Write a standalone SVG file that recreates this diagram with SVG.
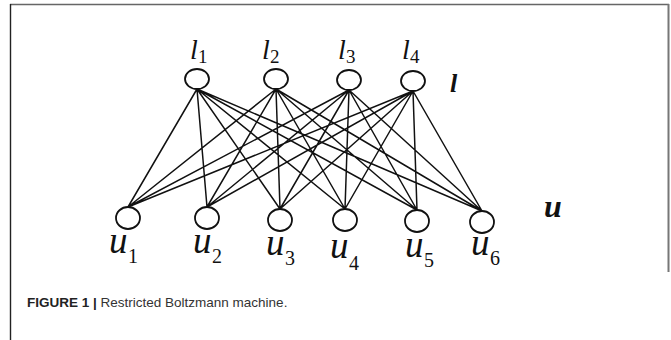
<svg xmlns="http://www.w3.org/2000/svg" width="671" height="340" viewBox="0 0 671 340">
<style>
.node{fill:#fff;stroke:#111;stroke-width:1.8}
.edge{stroke:#111;stroke-width:1.5;fill:none}
.var{font-family:"Liberation Serif",serif;font-style:italic;fill:#111}
.sub{font-family:"Liberation Serif",serif;fill:#111}
.bold{font-family:"Liberation Serif",serif;font-style:italic;font-weight:bold;fill:#111}
.cap{font-family:"Liberation Sans",Arial,sans-serif;font-size:13.5px;fill:#333}
</style>
<rect width="671" height="340" fill="#fff"/>
<g id="frame">
<line x1="10" y1="4.5" x2="669" y2="4.5" stroke="#666" stroke-width="1.6"/>
<line x1="668.5" y1="4" x2="668.5" y2="272" stroke="#777" stroke-width="2"/>
<line x1="10.5" y1="4" x2="10.5" y2="340" stroke="#222" stroke-width="1.4"/>
</g>
<g id="connectors">
<path class="edge" d="M197 89L128 207M197 89L207 207M197 89L280 209M197 89L345 209M197 89L417 210M197 89L482 211
M276 89L128 207M276 89L207 207M276 89L280 209M276 89L345 209M276 89L417 210M276 89L482 211
M349 90L128 207M349 90L207 207M349 90L280 209M349 90L345 209M349 90L417 210M349 90L482 211
M413 91L128 207M413 91L207 207M413 91L280 209M413 91L345 209M413 91L417 210M413 91L482 211"/>
</g>
<g id="l1"><ellipse class="node" cx="197" cy="79" rx="12" ry="10"/><text class="var" x="190" y="59" font-size="28">l</text><text class="sub" x="198" y="63" font-size="19">1</text></g>
<g id="l2"><ellipse class="node" cx="276" cy="79" rx="12" ry="10"/><text class="var" x="262" y="59" font-size="28">l</text><text class="sub" x="270" y="63" font-size="19">2</text></g>
<g id="l3"><ellipse class="node" cx="349" cy="80" rx="12" ry="10"/><text class="var" x="338" y="59" font-size="28">l</text><text class="sub" x="346" y="63" font-size="19">3</text></g>
<g id="l4"><ellipse class="node" cx="413" cy="81" rx="12" ry="10"/><text class="var" x="402" y="59" font-size="28">l</text><text class="sub" x="410" y="63" font-size="19">4</text></g>
<g id="lvec"><text class="bold" x="450" y="92" font-size="26">l</text></g>
<g id="u1"><ellipse class="node" cx="128" cy="218" rx="12" ry="11"/><text class="var" x="109" y="253" font-size="37">u</text><text class="sub" x="128" y="263" font-size="20">1</text></g>
<g id="u2"><ellipse class="node" cx="207" cy="218" rx="12" ry="11"/><text class="var" x="193" y="253" font-size="37">u</text><text class="sub" x="212" y="263" font-size="20">2</text></g>
<g id="u3"><ellipse class="node" cx="280" cy="220" rx="12" ry="11"/><text class="var" x="266" y="255" font-size="37">u</text><text class="sub" x="285" y="265" font-size="20">3</text></g>
<g id="u4"><ellipse class="node" cx="345" cy="220" rx="12" ry="11"/><text class="var" x="330" y="258" font-size="37">u</text><text class="sub" x="349" y="270" font-size="20">4</text></g>
<g id="u5"><ellipse class="node" cx="417" cy="221" rx="12" ry="11"/><text class="var" x="405" y="257" font-size="37">u</text><text class="sub" x="424" y="267" font-size="20">5</text></g>
<g id="u6"><ellipse class="node" cx="482" cy="222" rx="12" ry="11"/><text class="var" x="471" y="255" font-size="37">u</text><text class="sub" x="490" y="265" font-size="20">6</text></g>
<g id="uvec"><text class="bold" x="544" y="217" font-size="32">u</text></g>
<g id="caption"><text class="cap" x="27" y="307"><tspan font-weight="bold" fill="#222">FIGURE 1 |</tspan> Restricted Boltzmann machine.</text></g>
</svg>
